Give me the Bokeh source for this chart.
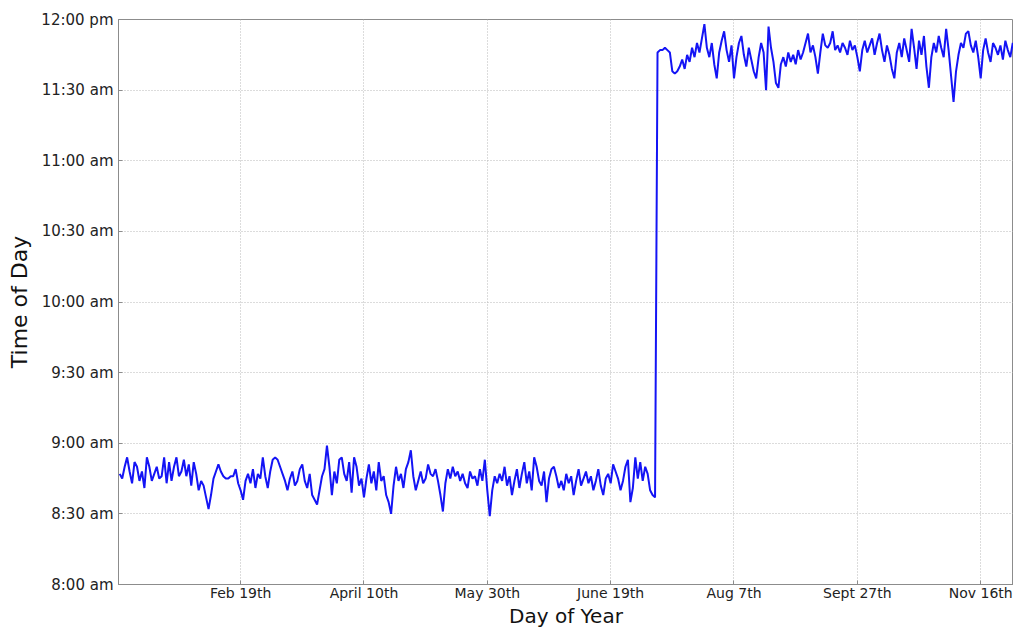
from bokeh.plotting import figure
from bokeh.models import FixedTicker, Range1d
from bokeh.embed import file_html
from bokeh.resources import INLINE

# ---- data: minutes after 8:00 am, one value per day ----
before_days_minutes = [
    47, 45, 50, 54, 48, 43, 52, 50, 44, 48,
    41, 54, 50, 44, 47, 50, 45, 46, 54, 43,
    52, 44, 50, 54, 46, 48, 53, 46, 51, 42,
    52, 47, 40, 44, 42, 37, 32, 38, 45, 48,
    51, 48, 46, 45, 45, 46, 46, 49, 43, 40,
    36, 44, 47, 43, 49, 41, 47, 45, 54, 46,
    41, 48, 53, 54, 53, 50, 47, 44, 40, 45,
    48, 42, 44, 49, 51, 44, 41, 47, 38, 36,
    34, 40, 46, 49, 59, 50, 38, 48, 43, 53,
    54, 47, 44, 52, 39, 54, 50, 42, 45, 37,
    45, 51, 43, 48, 40, 52, 44, 46, 38, 35,
    30, 42, 50, 44, 47, 41, 49, 52, 57, 46,
    40, 44, 48, 43, 45, 51, 47, 46, 49, 44,
    38, 31, 43, 49, 45, 50, 46, 48, 44, 47,
    43, 41, 48, 45, 46, 42, 49, 44, 53, 40,
    29, 40, 46, 43, 47, 44, 50, 42, 46, 38,
    44, 49, 41, 47, 52, 43, 48, 40, 54, 50,
    44, 42, 48, 35, 45, 49, 50, 46, 41, 44,
    40, 47, 43, 46, 38, 44, 49, 42, 45, 48,
    43, 46, 40, 44, 49, 42, 38, 45, 47, 43,
    51, 48, 45, 40, 44, 50, 53, 35, 41, 54,
    45, 52, 44, 50, 47, 40, 38, 37,
]
after_days_minutes = [
    226, 227, 227, 228, 227, 226, 218, 217, 218, 220,
    223, 219, 225, 222, 228, 224, 230, 226, 232, 238,
    228, 224, 230, 221, 215, 226, 231, 235, 227, 222,
    229, 215, 224, 230, 233, 225, 220, 228, 223, 218,
    215, 224, 230, 226, 210, 237, 228, 222, 213, 211,
    221, 224, 220, 226, 222, 225, 221, 227, 223, 226,
    230, 234, 226, 229, 224, 217, 226, 234, 229, 228,
    230, 235, 227, 229, 226, 230, 228, 225, 231, 227,
    229, 224, 218, 227, 231, 226, 229, 232, 225, 230,
    234, 227, 222, 229, 225, 219, 215, 226, 230, 224,
    232, 227, 222, 236, 228, 219, 231, 225, 233, 220,
    211, 224, 230, 226, 233, 228, 224, 236, 227, 216,
    205, 218, 225, 230, 228, 234, 235, 229, 226, 231,
    224, 215, 227, 232, 226, 222, 230, 228, 225, 229,
    223, 231, 227, 224, 230, 228, 226,
]
x_tick_days = [50, 100, 150, 200, 250, 300, 350]
x_tick_labels = ["Feb 19th", "April 10th", "May 30th", "June 19th",
                 "Aug 7th", "Sept 27th", "Nov 16th"]
y_tick_minutes = [0, 30, 60, 90, 120, 150, 180, 210, 240]
y_tick_labels = ["8:00 am", "8:30 am", "9:00 am", "9:30 am", "10:00 am",
                 "10:30 am", "11:00 am", "11:30 am", "12:00 pm"]

values = before_days_minutes + after_days_minutes
days = list(range(1, len(values) + 1))

FONT = "DejaVu Sans"
AXIS_GRAY = "#8c8c8c"

p = figure(width=1013, height=630, x_range=Range1d(0.5, 363.3), y_range=Range1d(0, 240),
           output_backend="svg", toolbar_location=None,
           min_border_left=118, min_border_right=0, min_border_top=19, min_border_bottom=42)

p.line(days, values, line_color="#1414f5", line_width=2)

p.xaxis.ticker = FixedTicker(ticks=x_tick_days)
p.xaxis.major_label_overrides = dict(zip(x_tick_days, x_tick_labels))
p.yaxis.ticker = FixedTicker(ticks=y_tick_minutes)
p.yaxis.major_label_overrides = dict(zip(y_tick_minutes, y_tick_labels))

for ax in (p.xaxis, p.yaxis):
    ax.major_tick_in = 4
    ax.major_tick_out = 0
    ax.minor_tick_line_color = None
    ax.axis_line_color = AXIS_GRAY
    ax.major_tick_line_color = AXIS_GRAY
    ax.major_label_text_font = FONT
    ax.major_label_text_font_size = "15px"
    ax.major_label_text_color = "#222222"
    ax.axis_label_text_font = FONT
    ax.axis_label_text_font_size = "22px"
    ax.axis_label_text_font_style = "normal"
    ax.axis_label_text_color = "#111111"

p.xaxis.major_label_text_font_size = "14px"
p.xaxis.axis_label_text_font_size = "20px"
p.xaxis.axis_label = "Day of Year"
p.xaxis.major_label_standoff = 0
p.xaxis.axis_label_standoff = 0
p.yaxis.axis_label = "Time of Day"
p.yaxis.major_label_standoff = 5
p.yaxis.axis_label_standoff = 6

p.grid.grid_line_color = "#b8b8b8"
p.grid.grid_line_dash = "1 2"
p.grid.grid_line_width = 1
p.outline_line_color = AXIS_GRAY

open("out.html", "w").write(file_html(p, INLINE))
